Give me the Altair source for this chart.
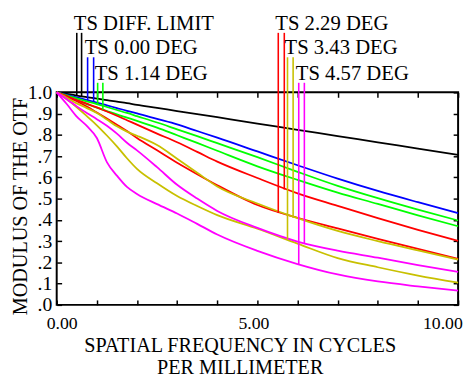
import altair as alt
import pandas as pd

# ---- data ----
freq = [0, 0.25, 0.5, 0.75, 1, 1.25, 1.5, 1.75, 2, 2.5, 3, 3.5, 4, 5, 6, 7, 8, 9, 10]

diff_limit = [1.0, 0.993, 0.985, 0.978, 0.971, 0.963, 0.956, 0.949, 0.941, 0.927, 0.912, 0.898, 0.883, 0.853, 0.824, 0.794, 0.765, 0.735, 0.706]
ts_000 = [1.0, 0.988, 0.976, 0.964, 0.952, 0.939, 0.926, 0.913, 0.901, 0.875, 0.849, 0.818, 0.787, 0.722, 0.657, 0.594, 0.536, 0.483, 0.432]
t_114 = [1.0, 0.986, 0.972, 0.958, 0.945, 0.931, 0.917, 0.903, 0.888, 0.858, 0.826, 0.794, 0.761, 0.695, 0.626, 0.560, 0.502, 0.448, 0.397]
s_114 = [1.0, 0.981, 0.962, 0.945, 0.928, 0.912, 0.896, 0.881, 0.866, 0.834, 0.798, 0.762, 0.725, 0.652, 0.588, 0.528, 0.475, 0.421, 0.370]
t_229 = [1.0, 0.982, 0.964, 0.947, 0.929, 0.910, 0.890, 0.869, 0.848, 0.806, 0.765, 0.720, 0.674, 0.597, 0.525, 0.466, 0.408, 0.353, 0.301]
s_229 = [1.0, 0.980, 0.958, 0.933, 0.905, 0.877, 0.848, 0.818, 0.785, 0.727, 0.669, 0.615, 0.563, 0.470, 0.410, 0.360, 0.311, 0.263, 0.216]
t_343 = [1.0, 0.975, 0.948, 0.926, 0.903, 0.872, 0.840, 0.815, 0.796, 0.752, 0.688, 0.622, 0.557, 0.477, 0.408, 0.348, 0.300, 0.256, 0.213]
s_343 = [1.0, 0.967, 0.930, 0.888, 0.845, 0.797, 0.746, 0.690, 0.640, 0.572, 0.512, 0.465, 0.422, 0.358, 0.288, 0.220, 0.177, 0.138, 0.105]
t_457 = [1.0, 0.968, 0.934, 0.903, 0.874, 0.843, 0.806, 0.763, 0.727, 0.648, 0.565, 0.500, 0.442, 0.362, 0.298, 0.255, 0.222, 0.187, 0.155]
s_457 = [1.0, 0.945, 0.886, 0.842, 0.785, 0.672, 0.608, 0.555, 0.522, 0.474, 0.430, 0.381, 0.331, 0.254, 0.192, 0.143, 0.110, 0.087, 0.067]

curve_ids = ["diff", "f000", "f114T", "f114S", "f229T", "f229S", "f343T", "f343S", "f457T", "f457S"]
curve_vals = [diff_limit, ts_000, t_114, s_114, t_229, s_229, t_343, s_343, t_457, s_457]
curve_colors = ["#000000", "#0000ff", "#00ff00", "#00ff00", "#ff0000", "#ff0000",
                "#c8c000", "#c8c000", "#ff00ff", "#ff00ff"]

# legend callout lines (drop lines from the labels down to the curves)
marker_curve = ["diff", "diff", "f000", "f000", "f114T", "f114S",
                "f229S", "f229T", "f343S", "f343T", "f457S", "f457T"]
marker_x = [0.50, 0.62, 0.77, 0.92, 1.02, 1.15, 5.52, 5.67, 5.75, 5.89, 6.03, 6.17]
marker_top = [1.28, 1.28, 1.165, 1.165, 1.045, 1.045, 1.28, 1.28, 1.165, 1.165, 1.045, 1.045]
marker_end = [0.985, 0.981, 0.963, 0.956, 0.944, 0.918, 0.432, 0.543, 0.309, 0.410, 0.190, 0.288]

label_text = ["TS DIFF. LIMIT", "TS 0.00 DEG", "TS 1.14 DEG", "TS 2.29 DEG", "TS 3.43 DEG", "TS 4.57 DEG"]
label_x = [0.50, 0.77, 1.02, 5.52, 5.75, 6.03]
label_y = [1.28, 1.165, 1.045, 1.28, 1.165, 1.045]

x_tick_values = [0, 1, 2, 3, 4, 5, 6, 7, 8, 9, 10]
x_tick_labels = ["0.00", "", "", "", "", "5.00", "", "", "", "", "10.00"]
y_tick_values = [0, 0.1, 0.2, 0.3, 0.4, 0.5, 0.6, 0.7, 0.8, 0.9, 1.0]
y_tick_labels = [".0", ".1", ".2", ".3", ".4", ".5", ".6", ".7", ".8", ".9", "1.0"]

# ---- tables ----
rows = []
for cid, vals in zip(curve_ids, curve_vals):
    for f, v in zip(freq, vals):
        rows.append({"curve": cid, "freq": f, "mtf": v})
df = pd.DataFrame(rows)
markers = pd.DataFrame({"curve": marker_curve, "x": marker_x, "top": marker_top, "end": marker_end})
labels = pd.DataFrame({"text": label_text, "x": label_x, "y": label_y})

FONT = "Liberation Serif"
x_scale = alt.Scale(domain=[0, 10], nice=False, zero=False)
y_scale = alt.Scale(domain=[0, 1], nice=False, zero=False)
color_scale = alt.Scale(domain=curve_ids, range=curve_colors)

x_expr = "[" + ",".join("'%s'" % s for s in x_tick_labels) + "][round(datum.value)]"
y_expr = "[" + ",".join("'%s'" % s for s in y_tick_labels) + "][round(datum.value*10)]"

bottom_axis = alt.Axis(
    values=x_tick_values, labelExpr=x_expr, domain=False, grid=False,
    ticks=True, tickSize=alt.ExprRef(expr="-5"), tickColor="black", tickWidth=1.5,
    labelFont=FONT, labelFontSize=18, labelColor="black", labelPadding=29.5,
    labelBaseline="alphabetic", labelFlush=False,
    labelOffset={"condition": [{"test": "datum.value == 0", "value": 5},
                               {"test": "datum.value == 10", "value": -16}],
                 "value": -4},
    title=["SPATIAL FREQUENCY IN CYCLES", "PER  MILLIMETER"],
    titleFont=FONT, titleFontSize=20.5, titleFontWeight="normal", titleColor="black",
    titleX=186, titleY=47, titleAlign="center", titleBaseline="alphabetic",
    titleLineHeight=22.5,
)
left_axis = alt.Axis(
    values=y_tick_values, labelExpr=y_expr, domain=False, grid=False,
    ticks=True, tickSize=alt.ExprRef(expr="-5"), tickColor="black", tickWidth=1.5,
    labelFont=FONT, labelFontSize=20, labelColor="black", labelPadding=10,
    labelFlush=False,
    title="MODULUS OF THE OTF", titleFont=FONT, titleFontSize=20.5,
    titleFontWeight="normal", titleColor="black",
    titleX=-31, titleY=115.5, titleAngle=-90, titleAlign="center", titleBaseline="alphabetic",
)
top_axis = alt.Axis(
    orient="top", values=x_tick_values, labels=False, domain=False, grid=False,
    ticks=True, tickSize=alt.ExprRef(expr="-5"), tickColor="black", tickWidth=1.5, title=None,
)
right_axis = alt.Axis(
    orient="right", values=y_tick_values, labels=False, domain=False, grid=False,
    ticks=True, tickSize=alt.ExprRef(expr="-5"), tickColor="black", tickWidth=1.5, title=None,
)

lines = alt.Chart(df).mark_line(strokeWidth=1.8, interpolate="monotone").encode(
    x=alt.X("freq:Q", scale=x_scale, axis=bottom_axis),
    y=alt.Y("mtf:Q", scale=y_scale, axis=left_axis),
    color=alt.Color("curve:N", scale=color_scale, legend=None),
)
frame_axes = alt.Chart(df).mark_point(opacity=0).encode(
    x=alt.X("freq:Q", scale=x_scale, axis=top_axis),
    y=alt.Y("mtf:Q", scale=y_scale, axis=right_axis),
)
rules = alt.Chart(markers).mark_rule(strokeWidth=1.6).encode(
    x=alt.X("x:Q", scale=x_scale, axis=None),
    y=alt.Y("top:Q", scale=y_scale, axis=None),
    y2="end:Q",
    color=alt.Color("curve:N", scale=color_scale, legend=None),
)
texts = alt.Chart(labels).mark_text(
    align="left", baseline="alphabetic", dx=-3, dy=-3,
    font=FONT, fontSize=21, color="black",
).encode(
    x=alt.X("x:Q", scale=x_scale, axis=None),
    y=alt.Y("y:Q", scale=y_scale, axis=None),
    text="text:N",
)

chart = alt.layer(frame_axes, lines, rules, texts).resolve_axis(
    x="independent", y="independent"
).properties(
    width=408, height=216,
    padding={"left": 49.5, "top": 82.7, "right": 6, "bottom": 72},
    autosize=alt.AutoSizeParams(type="none"),
    background="white",
).configure_view(stroke="black", strokeWidth=2)

chart.save("out.html", embed_options={"renderer": "svg", "actions": False})
